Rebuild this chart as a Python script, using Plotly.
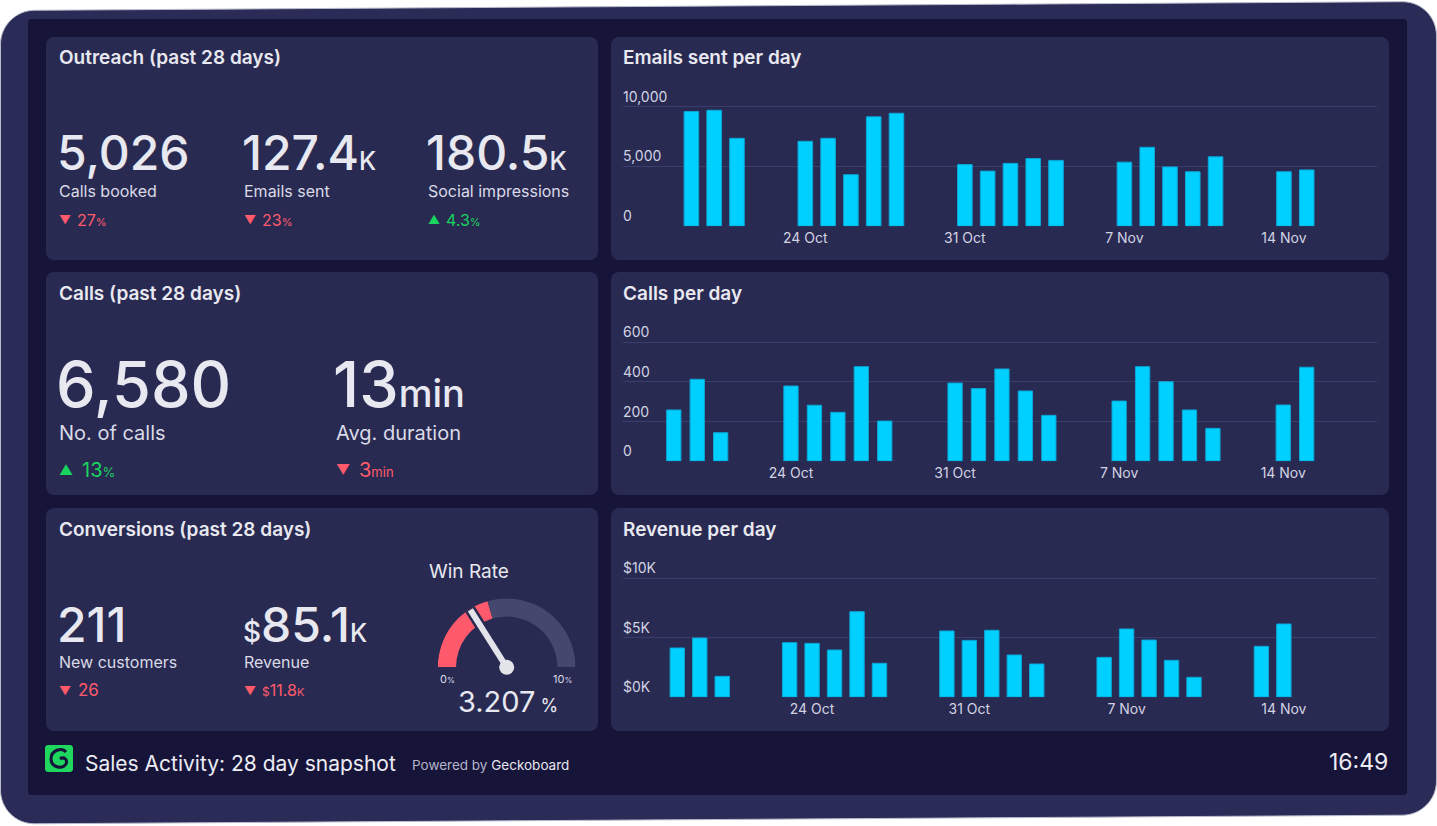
import plotly.graph_objects as go

W, H = 1437, 826

# ---------------- data ----------------
email_dates = ["2022-10-19", "2022-10-20", "2022-10-21", "2022-10-24", "2022-10-25",
               "2022-10-26", "2022-10-27", "2022-10-28", "2022-10-31", "2022-11-01",
               "2022-11-02", "2022-11-03", "2022-11-04", "2022-11-07", "2022-11-08",
               "2022-11-09", "2022-11-10", "2022-11-11", "2022-11-14", "2022-11-15"]
emails_sent = [9600, 9700, 7350, 7100, 7350, 4300, 9150, 9450, 5150, 4600,
               5250, 5650, 5500, 5350, 6600, 4950, 4550, 5800, 4550, 4700]

call_dates = email_dates
calls_made = [258, 413, 143, 379, 282, 246, 477, 202, 394, 366,
              465, 354, 231, 303, 477, 401, 258, 165, 283, 474]

revenue_dates = ["2022-10-18", "2022-10-19", "2022-10-20", "2022-10-23", "2022-10-24",
                 "2022-10-25", "2022-10-26", "2022-10-27", "2022-10-30", "2022-10-31",
                 "2022-11-01", "2022-11-02", "2022-11-03", "2022-11-06", "2022-11-07",
                 "2022-11-08", "2022-11-09", "2022-11-10", "2022-11-13", "2022-11-14"]
revenue_k = [4.13, 4.97, 1.74, 4.58, 4.52, 3.96, 7.19, 2.84, 5.56, 4.77,
             5.62, 3.54, 2.78, 3.34, 5.73, 4.80, 3.09, 1.66, 4.27, 6.15]

date_ticks = ["2022-10-24", "2022-10-31", "2022-11-07", "2022-11-14"]
email_ticks = [0, 5000, 10000]
call_ticks = [0, 200, 400, 600]
revenue_ticks = [0, 5, 10]
revenue_tick_text = [f"${v}K" for v in revenue_ticks]

win_rate = 3.207
gauge_max = 10
gauge_bands = [0, 4.1, 10]          # red band, then grey band

# ---------------- style ----------------
FONT = "Inter, Roboto, 'Open Sans', sans-serif"
FRAME = "#2a2b57"
INNER = "#17143a"
PANEL = "#292a52"
TXT = "#e8e8f0"
SUB = "#dadae6"
TICK = "#d2d3e2"
GRID = "#3b3d6c"
BAR = "#00d0ff"
BAR_EDGE = "#0aa6d6"
RED = "#ff5a6b"
GREEN = "#19d45e"
GAUGE_GREY = "#46476f"
DAY_MS = 86400000


def px(x):
    return x / W


def py(y):
    return 1 - y / H


def rounded_poly(pts, r):
    """closed path through pts (pixel coords) with rounded corners, in paper units"""
    n = len(pts)
    parts = []
    for i in range(n):
        p0, p1, p2 = pts[i - 1], pts[i], pts[(i + 1) % n]

        def toward(a, b, d):
            dx, dy = b[0] - a[0], b[1] - a[1]
            L = (dx * dx + dy * dy) ** 0.5
            return (a[0] + dx / L * d, a[1] + dy / L * d)
        a = toward(p1, p0, r)
        b = toward(p1, p2, r)
        ca = (a[0] + 0.552 * (p1[0] - a[0]), a[1] + 0.552 * (p1[1] - a[1]))
        cb = (b[0] + 0.552 * (p1[0] - b[0]), b[1] + 0.552 * (p1[1] - b[1]))
        cmd = "M" if i == 0 else "L"
        parts.append(f"{cmd} {px(a[0]):.6f},{py(a[1]):.6f}")
        parts.append(f"C {px(ca[0]):.6f},{py(ca[1]):.6f} {px(cb[0]):.6f},{py(cb[1]):.6f} "
                     f"{px(b[0]):.6f},{py(b[1]):.6f}")
    return " ".join(parts) + " Z"


def rrect(x0, y0, x1, y1, r):
    return rounded_poly([(x0, y0), (x1, y0), (x1, y1), (x0, y1)], r)


shapes = []
# outer device frame (slightly tilted)
shapes.append(dict(type="path", xref="paper", yref="paper", layer="below",
                   path=rounded_poly([(0.5, 10.5), (1436.5, 1.5), (1436.5, 815), (0.5, 824)], 34),
                   fillcolor=FRAME, line=dict(color="#b9bacb", width=1)))
# inner dark screen
shapes.append(dict(type="path", xref="paper", yref="paper", layer="below",
                   path=rrect(28, 19, 1407, 795, 3), fillcolor=INNER, line=dict(width=0)))
# panels
panel_boxes = [(46, 37, 598, 260), (611, 37, 1389, 260),
               (46, 272, 598, 495), (611, 272, 1389, 495),
               (46, 508, 598, 731), (611, 508, 1389, 731)]
for (x0, y0, x1, y1) in panel_boxes:
    shapes.append(dict(type="path", xref="paper", yref="paper", layer="below",
                       path=rrect(x0, y0, x1, y1, 8), fillcolor=PANEL, line=dict(width=0)))
# logo
shapes.append(dict(type="path", xref="paper", yref="paper", layer="above",
                   path=rrect(45, 745, 73, 772, 3), fillcolor="#1fd65f", line=dict(width=0)))
lp = [(66, 752), (62, 747), (51, 750), (51, 759), (51, 767), (62, 770), (66, 764),
      (68, 760), (64, 756), (60, 759)]
logo_path = (f"M {px(lp[0][0])},{py(lp[0][1])} "
             f"C {px(lp[1][0])},{py(lp[1][1])} {px(lp[2][0])},{py(lp[2][1])} {px(lp[3][0])},{py(lp[3][1])} "
             f"C {px(lp[4][0])},{py(lp[4][1])} {px(lp[5][0])},{py(lp[5][1])} {px(lp[6][0])},{py(lp[6][1])} "
             f"C {px(lp[7][0])},{py(lp[7][1])} {px(lp[8][0])},{py(lp[8][1])} {px(lp[9][0])},{py(lp[9][1])}")
shapes.append(dict(type="path", xref="paper", yref="paper", layer="above",
                   path=logo_path, line=dict(color="#16133a", width=3)))

annotations = []


def txt(x, y, s, size, color=TXT, anchor="left", weight=None):
    f = dict(size=size, color=color, family=FONT)
    if weight:
        f["weight"] = weight
    annotations.append(dict(x=px(x), y=py(y), xref="paper", yref="paper", text=s,
                            showarrow=False, xanchor=anchor, yanchor="middle", font=f,
                            borderpad=0))


# titles
TS = 19
txt(58, 58, "Outreach (past 28 days)", TS, weight=600)
txt(622, 58, "Emails sent per day", TS, weight=600)
txt(58, 294, "Calls (past 28 days)", TS, weight=600)
txt(622, 294, "Calls per day", TS, weight=600)
txt(58, 529, "Conversions (past 28 days)", TS, weight=600)
txt(622, 529, "Revenue per day", TS, weight=600)

# Outreach KPIs
txt(56, 152, "5,026", 48, weight=500)
txt(241, 152, "127.4<span style='font-size:25px'>K</span>", 48, weight=500)
txt(425, 152, "180.5<span style='font-size:25px'>K</span>", 48, weight=500)
txt(58, 191, "Calls booked", 16, SUB)
txt(243, 191, "Emails sent", 16, SUB)
txt(427, 191, "Social impressions", 16, SUB)
txt(58, 219, "▼", 12, RED)
txt(76, 220, "27<span style='font-size:11px'>%</span>", 16, RED)
txt(243, 219, "▼", 12, RED)
txt(261, 220, "23<span style='font-size:11px'>%</span>", 16, RED)
txt(427, 219, "▲", 12, GREEN)
txt(445, 220, "4.3<span style='font-size:11px'>%</span>", 16, GREEN)

# Calls KPIs
txt(55, 384, "6,580", 63, weight=500)
txt(332, 384, "13<span style='font-size:38px'>min</span>", 63, weight=500)
txt(58, 433, "No. of calls", 20, SUB)
txt(335, 433, "Avg. duration", 20, SUB)
txt(58, 469, "▲", 14, GREEN)
txt(81, 470, "13<span style='font-size:13px'>%</span>", 20, GREEN)
txt(335, 469, "▼", 14, RED)
txt(358, 470, "3<span style='font-size:13px'>min</span>", 20, RED)

# Conversions KPIs
txt(56, 624, "211", 48, weight=500)
txt(242, 624, "<span style='font-size:28px'>$</span>85.1<span style='font-size:25px'>K</span>", 48, weight=500)
txt(58, 662, "New customers", 16, SUB)
txt(243, 662, "Revenue", 16, SUB)
txt(58, 690, "▼", 12, RED)
txt(77, 690, "26", 17, RED)
txt(243, 690, "▼", 12, RED)
txt(261, 690, "<span style='font-size:12px'>$</span>11.8<span style='font-size:11px'>K</span>", 16, RED)

# Gauge texts
txt(428, 571, "Win Rate", 19)
txt(447, 679, "0<span style='font-size:8px'>%</span>", 11, SUB, anchor="center")
txt(562, 679, "10<span style='font-size:8px'>%</span>", 11, SUB, anchor="center")
txt(508, 701, f"{win_rate:.3f}<span style='font-size:18px'> %</span>", 29, anchor="center")

# Footer
txt(84, 763, "Sales Activity: 28 day snapshot", 21, "#ececf3")
txt(411, 765, "Powered by <span style='color:#e6e6ef'>Geckoboard</span>", 13.5, "#b3b4c8")
txt(1389, 762, "16:49", 23, "#ececf3", anchor="right")

fig = go.Figure()

bar_style = dict(marker=dict(color=BAR, line=dict(color=BAR_EDGE, width=1)), hoverinfo="skip")
fig.add_trace(go.Bar(x=email_dates, y=emails_sent, xaxis="x", yaxis="y",
                     width=0.64 * DAY_MS, **bar_style))
fig.add_trace(go.Bar(x=call_dates, y=calls_made, xaxis="x2", yaxis="y2",
                     width=0.61 * DAY_MS, **bar_style))
fig.add_trace(go.Bar(x=revenue_dates, y=revenue_k, xaxis="x3", yaxis="y3",
                     width=0.64 * DAY_MS, **bar_style))

# gauge (polar, radial units = pixels)
R_OUT, R_IN = 69, 50.7
deg_per_unit = 180 / gauge_max
band_colors = [RED, GAUGE_GREY]
for i in range(len(gauge_bands) - 1):
    a, b = gauge_bands[i], gauge_bands[i + 1]
    fig.add_trace(go.Barpolar(r=[R_OUT - R_IN], base=[R_IN], theta=[(a + b) / 2 * deg_per_unit],
                              width=[(b - a) * deg_per_unit],
                              marker=dict(color=band_colors[i], line=dict(width=0)),
                              subplot="polar", hoverinfo="skip"))
needle_theta = win_rate * deg_per_unit
fig.add_trace(go.Scatterpolar(r=[0, 69], theta=[needle_theta, needle_theta], mode="lines",
                              line=dict(color=PANEL, width=11), subplot="polar",
                              cliponaxis=False, hoverinfo="skip"))
fig.add_trace(go.Scatterpolar(r=[0, 68], theta=[needle_theta, needle_theta], mode="lines",
                              line=dict(color="#e3e3ea", width=6), subplot="polar",
                              cliponaxis=False, hoverinfo="skip"))
fig.add_trace(go.Scatterpolar(r=[0], theta=[0], mode="markers",
                              marker=dict(color="#e3e3ea", size=15), subplot="polar",
                              cliponaxis=False, hoverinfo="skip"))


def xax(rng, y_anchor):
    return dict(domain=[px(623), px(1377)], anchor=y_anchor, type="date", range=rng,
                tickvals=date_ticks, tickformat="%-d %b", showgrid=False, zeroline=False,
                showline=False, ticks="", ticklabelstandoff=2,
                tickfont=dict(size=14, color=TICK, family=FONT), fixedrange=True)


def yax(v_top, p_top, p_zero, tv, x_anchor, **kw):
    # value v_top sits at pixel p_top, 0 at pixel p_zero; the range is padded
    # (34 px above the top tick, a hair below zero) so the top gridline and its
    # inside label are kept
    k = (p_zero - p_top) / v_top
    pad_top = 34 / k
    pad_bot = 0.3 / k
    dom = [py(p_zero + pad_bot * k), py(p_top - pad_top * k)]
    d = dict(domain=dom, anchor=x_anchor, range=[-pad_bot, v_top + pad_top], tickvals=tv,
             showgrid=True, gridcolor=GRID, gridwidth=1, zeroline=False, showline=False,
             ticks="", ticklabelposition="inside top", ticklabelshift=0,
             ticklabelstandoff=-3,
             tickfont=dict(size=14, color=TICK, family=FONT), fixedrange=True)
    d.update(kw)
    return d


fig.update_layout(
    width=W, height=H, margin=dict(l=0, r=0, t=0, b=0),
    paper_bgcolor="white", plot_bgcolor="rgba(0,0,0,0)", showlegend=False,
    font=dict(family=FONT, color=TXT),
    xaxis=xax(["2022-10-16 00:00", "2022-11-18 02:00"], "y"),
    yaxis=yax(email_ticks[-1], 106.7, 226, email_ticks, "x", tickformat=","),
    xaxis2=xax(["2022-10-16 20:00", "2022-11-18 00:00"], "y2"),
    yaxis2=yax(call_ticks[-1], 342.3, 461, call_ticks, "x2"),
    xaxis3=xax(["2022-10-15 14:00", "2022-11-18 03:30"], "y3"),
    yaxis3=yax(revenue_ticks[-1], 578.3, 697, revenue_ticks, "x3", ticktext=revenue_tick_text),
    polar=dict(domain=dict(x=[px(506.7 - R_OUT), px(506.7 + R_OUT)], y=[py(667.3), py(667.3 - R_OUT)]),
               sector=[0, 180], bgcolor="rgba(0,0,0,0)", hole=0,
               radialaxis=dict(visible=False, range=[0, R_OUT]),
               angularaxis=dict(visible=False, rotation=180, direction="clockwise")),
    shapes=shapes, annotations=annotations,
)

fig.write_html("out.html", config={"displayModeBar": False},
               post_script="document.body.style.margin='0';document.body.style.overflow='hidden';")
